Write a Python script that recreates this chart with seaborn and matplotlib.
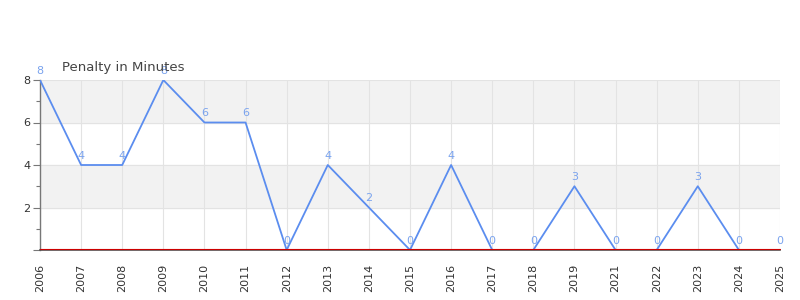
import matplotlib
matplotlib.use("Agg")
import matplotlib.pyplot as plt
import matplotlib.transforms as mtransforms
import seaborn as sns
import pandas as pd
from matplotlib.ticker import FixedLocator

years = ["2006", "2007", "2008", "2009", "2010", "2011", "2012", "2013", "2014", "2015",
         "2016", "2017", "2018", "2019", "2021", "2022", "2023", "2024", "2025"]
penalty = [8, 4, 4, 8, 6, 6, 0, 4, 2, 0, 4, 0, 0, 3, 0, 0, 3, 0, 0]
title = "Penalty in Minutes"

sns.set_theme(style="white")
plt.rcParams['font.family'] = ['DejaVu Sans']

df = pd.DataFrame({"idx": range(len(years)), "year": years, "pim": penalty})

fig = plt.figure(figsize=(8, 3), dpi=100)
ax = fig.add_axes([0.05, 1 - 250 / 300, 0.925, 170 / 300])

# alternating bands
for lo in [2, 6]:
    ax.axhspan(lo, lo + 2, color="#f2f2f2", zorder=0)

ax.set_xlim(0, len(years) - 1)
ax.set_ylim(0, 8)

for i in range(len(years)):
    ax.axvline(i, color="#e3e3e3", lw=0.8, zorder=1)
for y in [2, 4, 6, 8]:
    ax.axhline(y, color="#e3e3e3", lw=0.8, zorder=1)

sns.lineplot(data=df, x="idx", y="pim", ax=ax, color="#5b8def", lw=1.3, zorder=3)

# red zero line, drawn just above the bottom axis line
red_tr = mtransforms.offset_copy(ax.get_yaxis_transform(), fig=fig, x=0, y=0.8, units="points")
ax.plot([0, 1], [0, 0], transform=red_tr, color="#cc0000", lw=0.8, zorder=6, clip_on=False)

for i, v in zip(df["idx"], df["pim"]):
    ax.annotate(str(v), (i, v), xytext=(0, 3), textcoords="offset points",
                ha="center", va="bottom", fontsize=8, color="#7aa3ee", zorder=5)

ax.set_xticks(range(len(years)))
ax.set_xticklabels(years, rotation=90, fontsize=8, color="#333333")
ax.yaxis.set_major_locator(FixedLocator([0, 2, 4, 6, 8]))
ax.set_yticklabels(["", "2", "4", "6", "8"], fontsize=8, color="#333333")
ax.yaxis.set_minor_locator(FixedLocator([1, 3, 5, 7]))
ax.tick_params(axis="y", which="major", left=True, length=5, width=0.8, color="#777777", pad=2)
ax.tick_params(axis="y", which="minor", left=True, length=3, width=0.8, color="#777777")
ax.tick_params(axis="x", bottom=False, pad=4)

for s in ["top", "right"]:
    ax.spines[s].set_visible(False)
ax.spines["left"].set_color("#777777")
ax.spines["left"].set_linewidth(1)
ax.spines["bottom"].set_color("#555555")
ax.spines["bottom"].set_linewidth(1.2)

ax.set_xlabel("")
ax.set_ylabel("")
fig.text(62 / 800, 1 - 67 / 300, title, fontsize=9.5, color="#444444", ha="left", va="center")

fig.savefig("out.png", dpi=100)
